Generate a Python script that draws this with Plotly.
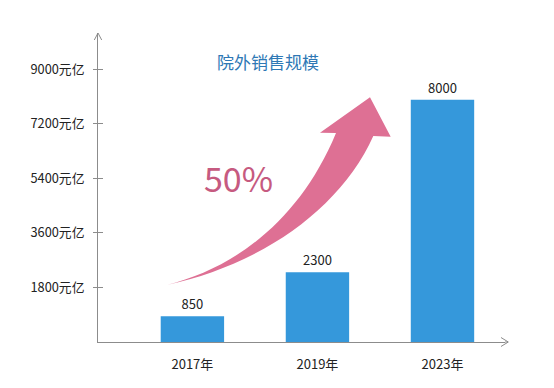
import plotly.graph_objects as go

categories = ["2017年", "2019年", "2023年"]
values = [850, 2300, 8000]
tick_vals = [1800, 3600, 5400, 7200, 9000]
tick_text = ["1800元亿", "3600元亿", "5400元亿", "7200元亿", "9000元亿"]
title_text = "院外销售规模"
growth_text = "50%"

W, H = 554, 388
L, R, T, B = 98, 505, 33, 342  # plot area in pixels

def px(x, y):
    return (x - L) / (R - L), (B - y) / (B - T)

def path(cmds):
    out = []
    for c in cmds:
        if isinstance(c, str):
            out.append(c)
        else:
            xp, yp = px(*c)
            out.append(f"{xp:.5f},{yp:.5f}")
    return " ".join(out)

FONT = "Noto Sans CJK SC"
AX = "#8c8c8c"

fig = go.Figure()
fig.add_trace(go.Bar(
    x=categories, y=values, width=0.507,
    marker=dict(color="#3598DB", line=dict(width=0)),
    text=[str(v) for v in values], textposition="outside",
    textfont=dict(family=FONT, size=13, color="#222222"),
    cliponaxis=False, hoverinfo="skip",
))

arrow = path(["M", (166.7, 285), "C", (235, 268), (300, 220), (336, 133),
              "L", (320, 132.7), "L", (370, 97.3), "L", (390.7, 136.7), "L", (373.3, 136),
              "C", (340, 210), (260, 265), (166.7, 285), "Z"])
chev_y = path(["M", (94.3, 40), "L", (98, 33), "L", (101.7, 40)])
chev_x = path(["M", (501, 337.5), "L", (508.3, 342), "L", (501, 346.5)])
xline = path(["M", (505, 342), "L", (508, 342)])

shapes = [
    dict(type="path", path=arrow, xref="paper", yref="paper",
         fillcolor="#DE7094", line=dict(width=0), layer="above"),
    dict(type="path", path=chev_y, xref="paper", yref="paper", line=dict(color=AX, width=1)),
    dict(type="path", path=chev_x, xref="paper", yref="paper", line=dict(color=AX, width=1)),
    dict(type="path", path=xline, xref="paper", yref="paper", line=dict(color=AX, width=1)),
]

tx, ty = px(267.5, 61.5)
gx, gy = px(238, 177)
annotations = [
    dict(text=title_text, x=tx, y=ty, xref="paper", yref="paper", showarrow=False,
         font=dict(family=FONT, size=17, color="#2E78B5"), xanchor="center", yanchor="middle"),
    dict(text=growth_text, x=gx, y=gy, xref="paper", yref="paper", showarrow=False,
         font=dict(family=FONT, size=34, color="#C65A80"), xanchor="center", yanchor="middle"),
]

fig.update_layout(
    width=W, height=H,
    margin=dict(l=L, r=W - R, t=T, b=H - B, pad=0),
    paper_bgcolor="white", plot_bgcolor="white",
    showlegend=False, bargap=0.5,
    shapes=shapes, annotations=annotations,
    xaxis=dict(range=[-0.755, 2.5], showline=True, linecolor=AX, linewidth=1,
               showgrid=False, zeroline=False, ticks="",
               tickfont=dict(family=FONT, size=13, color="#222222"), ticklabelstandoff=10),
    yaxis=dict(range=[0, 10200], showline=True, linecolor=AX, linewidth=1,
               showgrid=False, zeroline=False, ticks="outside", ticklen=4, tickcolor=AX,
               tickvals=tick_vals, ticktext=tick_text, ticklabelstandoff=6,
               tickfont=dict(family=FONT, size=12.8, color="#222222")),
    yaxis2=dict(range=[0, 10200], overlaying="y", anchor="x", side="left",
                showline=False, showgrid=False, zeroline=False, ticks="inside", ticklen=5,
                tickcolor=AX, tickvals=tick_vals, showticklabels=False),
)
fig.add_trace(go.Scatter(x=[None], y=[None], yaxis="y2", showlegend=False, hoverinfo="skip"))

fig.write_html("out.html", config={"displayModeBar": False},
               post_script="document.body.style.margin='0px';document.body.style.padding='0px';")
